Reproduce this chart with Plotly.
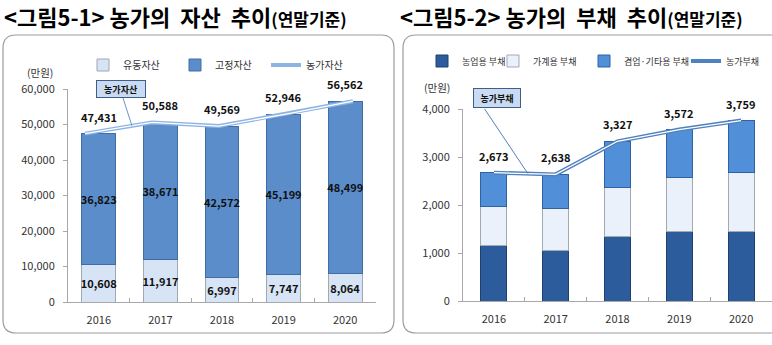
import plotly.graph_objects as go

W, H = 772, 345

# ---------------- data ----------------
years = ["2016", "2017", "2018", "2019", "2020"]
current_assets = [10608, 11917, 6997, 7747, 8064]      # 유동자산
fixed_assets = [36823, 38671, 42572, 45199, 48499]     # 고정자산
total_assets = [47431, 50588, 49569, 52946, 56562]     # 농가자산

farm_debt = [1150, 1050, 1345, 1440, 1440]             # 농업용 부채
household_debt = [820, 870, 1030, 1135, 1240]          # 가계용 부채
other_debt = [703, 718, 952, 997, 1079]                # 겸업·기타용 부채
total_debt = [2673, 2638, 3327, 3572, 3759]            # 농가부채

asset_ticks = [0, 10000, 20000, 30000, 40000, 50000, 60000]
debt_ticks = [0, 1000, 2000, 3000, 4000]

FONT = "Noto Sans CJK KR"


def px(x):
    return x / W


def py(y):
    return 1 - y / H


fig = go.Figure()
idx = list(range(len(years)))

# ---------------- left: assets ----------------
fig.add_trace(go.Bar(
    x=years, y=current_assets, name="유동자산", xaxis="x", yaxis="y",
    marker=dict(color="#D6E4F5", line=dict(color="#9FA8B4", width=1)),
    width=0.55, texttemplate="<b>%{y:,}</b>", textposition="inside",
    insidetextanchor="middle", textangle=0, constraintext="none",
    textfont=dict(family=FONT, size=11, color="#111111"),
    legend="legend", hoverinfo="skip"))
fig.add_trace(go.Bar(
    x=years, y=fixed_assets, name="고정자산", xaxis="x", yaxis="y",
    marker=dict(color="#5B8DCB", line=dict(color="#3F6EA6", width=1)),
    width=0.55, texttemplate="<b>%{y:,}</b>", textposition="inside",
    insidetextanchor="middle", textangle=0, constraintext="none",
    textfont=dict(family=FONT, size=11, color="#111111"),
    legend="legend2", hoverinfo="skip"))
fig.add_trace(go.Scatter(
    x=idx, y=total_assets, name="농가자산", xaxis="x3", yaxis="y",
    mode="lines", line=dict(color="#8DB4E3", width=4),
    legend="legend3", hoverinfo="skip"))
fig.add_trace(go.Scatter(
    x=idx, y=total_assets, xaxis="x3", yaxis="y", mode="lines",
    line=dict(color="white", width=1.3), showlegend=False, hoverinfo="skip"))

# ---------------- right: debt ----------------
fig.add_trace(go.Bar(
    x=years, y=farm_debt, name="농업용 부채", xaxis="x2", yaxis="y2",
    marker=dict(color="#2C5C9C", line=dict(color="#1E416F", width=1)),
    width=0.42, legend="legend4", hoverinfo="skip"))
fig.add_trace(go.Bar(
    x=years, y=household_debt, name="가계용 부채", xaxis="x2", yaxis="y2",
    marker=dict(color="#EAF1FA", line=dict(color="#A3A9B1", width=1)),
    width=0.42, legend="legend5", hoverinfo="skip"))
fig.add_trace(go.Bar(
    x=years, y=other_debt, name="겸업·기타용 부채", xaxis="x2", yaxis="y2",
    marker=dict(color="#5190D8", line=dict(color="#2F62A3", width=1)),
    width=0.42, legend="legend6", hoverinfo="skip"))
fig.add_trace(go.Scatter(
    x=years, y=total_debt, name="농가부채", xaxis="x2", yaxis="y2",
    mode="lines", line=dict(color="#4F81BD", width=4),
    legend="legend7", hoverinfo="skip"))
fig.add_trace(go.Scatter(
    x=years, y=total_debt, xaxis="x2", yaxis="y2", mode="lines",
    line=dict(color="white", width=1.3), showlegend=False, hoverinfo="skip"))

annotations = []
# total labels (category serial numbers on category axes)
for i, v in zip(idx, total_assets):
    annotations.append(dict(x=i, y=v, xref="x", yref="y", yshift=17,
                            xanchor="center", yanchor="middle",
                            text=f"<b>{v:,}</b>", showarrow=False,
                            font=dict(family=FONT, size=11, color="#111111")))
for i, v in zip(idx, total_debt):
    annotations.append(dict(x=i, y=v, xref="x2", yref="y2", yshift=17,
                            xanchor="center", yanchor="middle",
                            text=f"<b>{v:,}</b>", showarrow=False,
                            font=dict(family=FONT, size=11, color="#111111")))

# titles
annotations.append(dict(
    x=px(2), y=py(16), xref="paper", yref="paper", xanchor="left", yanchor="middle",
    text="<b>&lt;그림5-1&gt; 농가의\u00a0\u00a0자산\u00a0\u00a0추이<span style='font-size:17px'>(연말기준)</span></b>",
    showarrow=False, font=dict(family=FONT, size=22, color="#000000")))
annotations.append(dict(
    x=px(398), y=py(16), xref="paper", yref="paper", xanchor="left", yanchor="middle",
    text="<b>&lt;그림5-2&gt; 농가의\u00a0\u00a0부채\u00a0\u00a0추이<span style='font-size:17px'>(연말기준)</span></b>",
    showarrow=False, font=dict(family=FONT, size=22, color="#000000")))
# units
annotations.append(dict(x=px(40), y=py(72), xref="paper", yref="paper",
                        xanchor="center", yanchor="middle",
                        text="(만원)", showarrow=False,
                        font=dict(family=FONT, size=10.5, color="#333333")))
annotations.append(dict(x=px(437), y=py(88), xref="paper", yref="paper",
                        xanchor="center", yanchor="middle",
                        text="(만원)", showarrow=False,
                        font=dict(family=FONT, size=10.5, color="#333333")))
# callout boxes
annotations.append(dict(x=px(121), y=py(89), xref="paper", yref="paper",
                        xanchor="center", yanchor="middle",
                        text="<b>농가자산</b>", showarrow=False, width=46, height=14,
                        bgcolor="#C9DBF2", bordercolor="#3E5F8A", borderwidth=1, borderpad=1,
                        font=dict(family=FONT, size=9, color="#111111")))
annotations.append(dict(x=px(497), y=py(98), xref="paper", yref="paper",
                        xanchor="center", yanchor="middle",
                        text="<b>농가부채</b>", showarrow=False, width=44, height=16,
                        bgcolor="#C9DBF2", bordercolor="#3E5F8A", borderwidth=1, borderpad=1,
                        font=dict(family=FONT, size=9, color="#111111")))

shapes = []


def rounded(x0, y0, x1, y1, r):
    X0, X1 = px(x0), px(x1)
    Y0, Y1 = py(y0), py(y1)
    rx, ry = r / W, r / H
    return (f"M {X0+rx},{Y0} L {X1-rx},{Y0} Q {X1},{Y0} {X1},{Y0-ry} "
            f"L {X1},{Y1+ry} Q {X1},{Y1} {X1-rx},{Y1} L {X0+rx},{Y1} "
            f"Q {X0},{Y1} {X0},{Y1+ry} L {X0},{Y0-ry} Q {X0},{Y0} {X0+rx},{Y0} Z")


shapes.append(dict(type="path", xref="paper", yref="paper", path=rounded(3, 35, 394, 333, 13),
                   line=dict(color="#9C9C9C", width=1.2), fillcolor="white", layer="below"))
shapes.append(dict(type="path", xref="paper", yref="paper", path=rounded(403, 35, 790, 333, 13),
                   line=dict(color="#9C9C9C", width=1.2), fillcolor="white", layer="below"))

# leader lines from callouts to the total lines (end points on the data line)
t_left = 0.70
y_left = total_assets[0] + t_left * (total_assets[1] - total_assets[0])
shapes.append(dict(type="line", xref="x3", yref="y", x0=0.567, y0=57465, x1=t_left, y1=y_left,
                   line=dict(color="#6E94C4", width=1)))
t_right = 0.55
y_right = total_debt[0] + t_right * (total_debt[1] - total_debt[0])
shapes.append(dict(type="line", xref="x2", yref="y2", x0=-0.15, y0=4000, x1=t_right,
                   y1=y_right, line=dict(color="#4F81BD", width=1)))

axis_common = dict(showgrid=False, zeroline=False, showline=True, linecolor="#A8A8A8",
                   linewidth=1, automargin=False,
                   tickfont=dict(family=FONT, size=11, color="#333333"))

legend_base = dict(orientation="h", xanchor="left", yanchor="middle", bgcolor="rgba(0,0,0,0)",
                   borderwidth=0)
leg_pos = [(123, 65, 10), (215, 65, 10), (306, 65, 10),
           (462, 61, 9), (533, 61, 9), (624, 61, 9), (726, 61, 9)]
legends = {}
for i, (tx, ty, fs) in enumerate(leg_pos):
    key = "legend" if i == 0 else f"legend{i+1}"
    d = dict(legend_base)
    d.update(x=px(tx - 40), y=py(ty), font=dict(family=FONT, size=fs, color="#333333"))
    legends[key] = d

fig.update_layout(
    width=W, height=H, margin=dict(l=0, r=0, t=0, b=0, autoexpand=False),
    paper_bgcolor="white", plot_bgcolor="rgba(0,0,0,0)",
    barmode="stack",
    font=dict(family=FONT),
    xaxis=dict(domain=[px(68), px(376)], type="category", range=[-0.5, 4.5],
               tickson="boundaries", ticks="inside", ticklen=4, tickcolor="#A8A8A8",
               ticklabelstandoff=8, anchor="y", **axis_common),
    yaxis=dict(domain=[py(302), py(89)], range=[0, 60000], tickvals=asset_ticks,
               tickformat=",", ticks="outside", ticklen=4, tickcolor="#A8A8A8",
               ticklabelstandoff=6, anchor="x", **axis_common),
    xaxis3=dict(overlaying="x", anchor="y", range=[-0.254, 4.343], visible=False,
                automargin=False),
    xaxis2=dict(domain=[px(463), 1.0], type="category", range=[-0.5, 4.5],
                tickson="boundaries", ticks="inside", ticklen=4, tickcolor="#A8A8A8",
                ticklabelstandoff=8, anchor="y2", **axis_common),
    yaxis2=dict(domain=[py(301), py(109)], range=[0, 4000], tickvals=debt_ticks,
                tickformat=",", ticks="outside", ticklen=4, tickcolor="#A8A8A8",
                ticklabelstandoff=6, anchor="x2", **axis_common),
    annotations=annotations, shapes=shapes,
    **legends,
)

fig.write_html("out.html")
